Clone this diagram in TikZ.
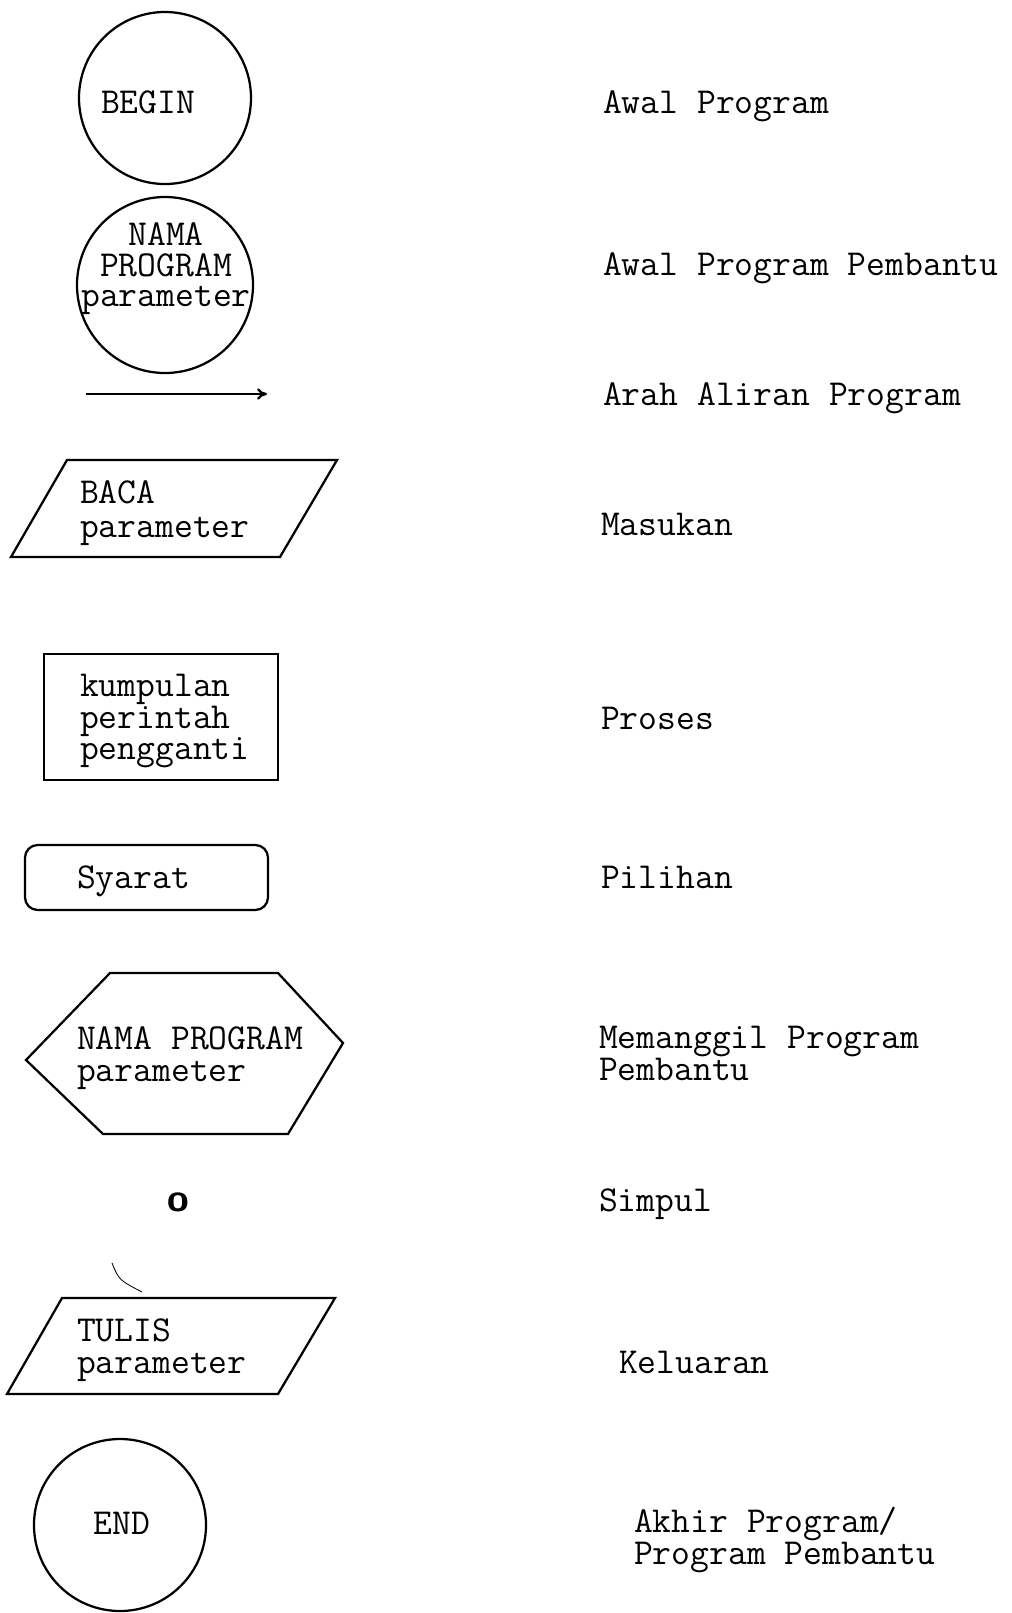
\documentclass[tikz,border=0pt]{standalone}
\usepackage{fontspec}
\usepackage{tikz}
\usetikzlibrary{arrows.meta}

\begin{document}
\begin{tikzpicture}[x=0.025cm, y=-0.025cm, line width=1.6pt,
    lbl/.style={anchor=north west, inner sep=0pt, align=left,
                font=\ttfamily\fontsize{26}{22.5}\selectfont}]
    \useasboundingbox (0,0) rectangle (1012,1613);
    \draw (165,98) circle[radius=86];
    \node[lbl] (tbegin) at (100,90) {BEGIN};
    \draw (165,285) circle[radius=88];
    \node[lbl, anchor=north, align=center, font=\ttfamily\fontsize{26}{21.5}\selectfont] (tnama) at (166,222) {NAMA\\PROGRAM\\parameter};
    \coordinate (arrS) at (86,394);
    \coordinate (arrE) at (267,394);
    \draw [-{To[length=7pt,width=8pt]}] (arrS)--(arrE);
    \draw (67,460)--(337,460)--(280,557)--(11,557)--cycle;
    \node[lbl, font=\ttfamily\fontsize{26}{23.5}\selectfont] (tbaca) at (79,480) {BACA\\parameter};
    \draw (44,654) rectangle (278,780);
    \node[lbl, font=\ttfamily\fontsize{26}{21}\selectfont] (tproses) at (79,673) {kumpulan\\perintah\\pengganti};
    \draw [rounded corners=9] (25,845) rectangle (268,910);
    \node[lbl] (tsyarat) at (76,865) {Syarat};
    \draw (110,973)--(278,973)--(343,1043)--(288,1134)--(103,1134)--(26,1060)--cycle;
    \node[lbl] (thex) at (76,1026) {NAMA PROGRAM\\parameter};
    \node[lbl, anchor=center, font=\sffamily\bfseries\fontsize{28}{28}\selectfont] (tsimpul) at (178,1202) {o};
    \draw [line width=0.6pt] (112,1263) .. controls (119,1280) .. (142,1292);
    \draw (62,1298)--(335,1298)--(278,1394)--(7,1394)--cycle;
    \node[lbl] (ttulis) at (76,1318) {TULIS\\parameter};
    \draw (120,1525) circle[radius=86];
    \node[lbl, anchor=center] (tend) at (122,1523) {END};
    \node[lbl] (d1) at (602,90) {Awal Program};
    \node[lbl] (d2) at (602,252) {Awal Program Pembantu};
    \node[lbl] (d3) at (602,382) {Arah Aliran Program};
    \node[lbl] (d4) at (600,512) {Masukan};
    \node[lbl] (d5) at (600,706) {Proses};
    \node[lbl] (d6) at (600,865) {Pilihan};
    \node[lbl] (d7) at (598,1025) {Memanggil Program\\Pembantu};
    \node[lbl] (d8) at (598,1188) {Simpul};
    \node[lbl] (d9) at (618,1350) {Keluaran};
    \node[lbl] (d10) at (633,1506) {Akhir Program/\\Program Pembantu};
\end{tikzpicture}
\end{document}
